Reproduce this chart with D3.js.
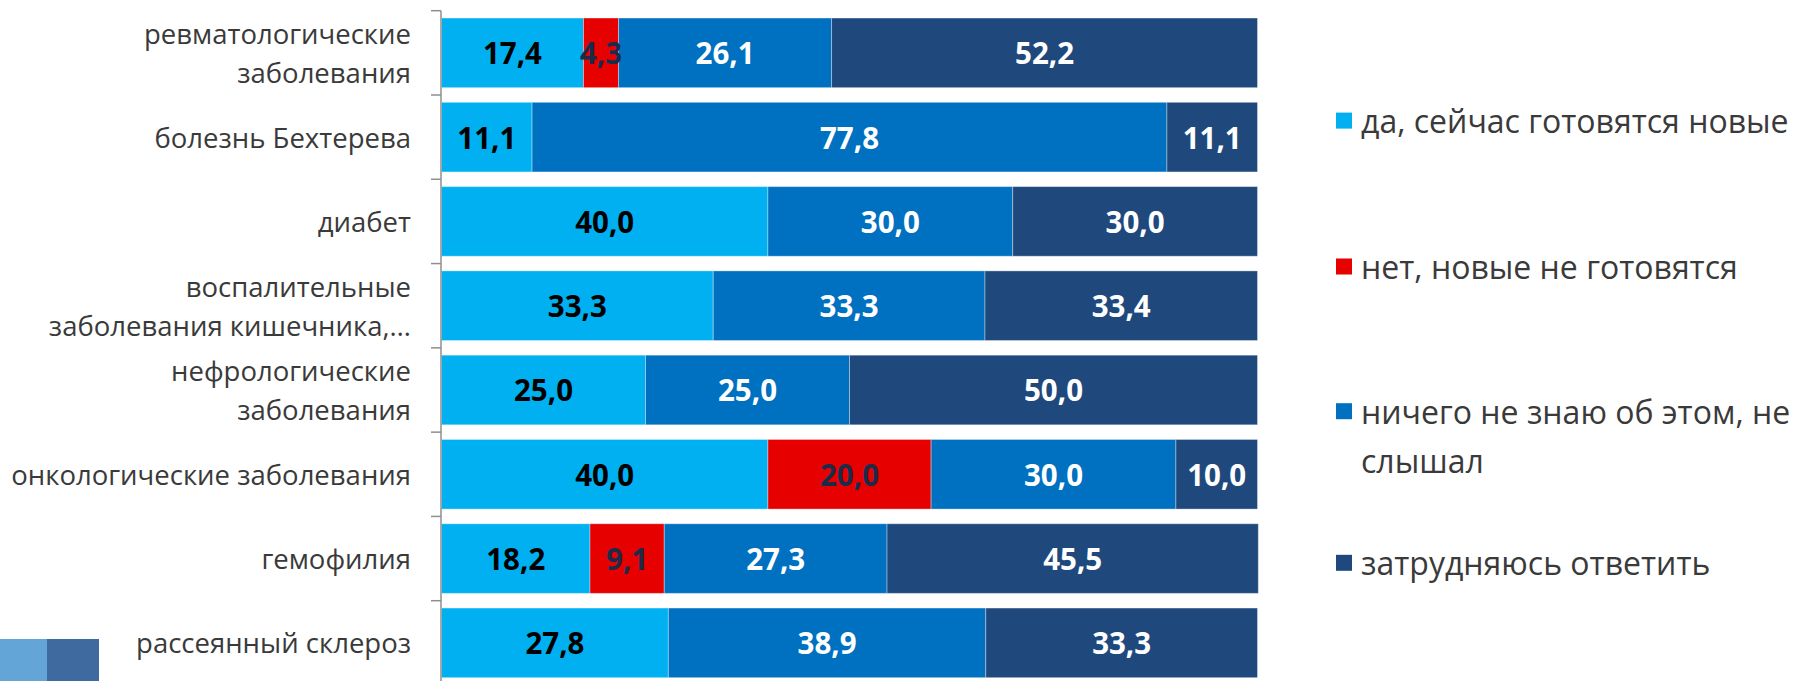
<!DOCTYPE html>
<html lang="ru">
<head>
<meta charset="utf-8">
<title>Stacked bars</title>
<script src="https://cdn.jsdelivr.net/npm/d3@7"></script>
<style>
  html, body { margin: 0; padding: 0; background: #fff; }
  svg { display: block; font-family: "Open Sans", "Noto Sans", sans-serif; }
</style>
</head>
<body>
<svg id="chart"></svg>
<script>
// categories, top to bottom (each entry = lines of the wrapped label)
const categories = [
  ['ревматологические', 'заболевания'],
  ['болезнь Бехтерева'],
  ['диабет'],
  ['воспалительные', 'заболевания кишечника,…'],
  ['нефрологические', 'заболевания'],
  ['онкологические заболевания'],
  ['гемофилия'],
  ['рассеянный склероз']
];

const seriesNames = [
  'да, сейчас готовятся новые',
  'нет, новые не готовятся',
  'ничего не знаю об этом, не слышал',
  'затрудняюсь ответить'
];

// percent per category, same order as categories
const yesValues     = [17.4, 11.1, 40.0, 33.3, 25.0, 40.0, 18.2, 27.8];
const noValues      = [4.3, 0, 0, 0, 0, 20.0, 9.1, 0];
const unknownValues = [26.1, 77.8, 30.0, 33.3, 25.0, 30.0, 27.3, 38.9];
const hardValues    = [52.2, 11.1, 30.0, 33.4, 50.0, 10.0, 45.5, 33.3];

const legendLines = [
  ['да, сейчас готовятся новые'],
  ['нет, новые не готовятся'],
  ['ничего не знаю об этом, не', 'слышал'],
  ['затрудняюсь ответить']
];

const colors = ['#00b0f0', '#e60000', '#0070c0', '#1f497d'];
const labelColors = ['#000000', '#1c2b4a', '#ffffff', '#ffffff'];

const width = 1801;
const height = 681;

const svg = d3.select('#chart').attr('width', width).attr('height', height);

const rows = categories.map((c, i) => ({
  key: c.join(' '),
  lines: c,
  s0: yesValues[i], s1: noValues[i], s2: unknownValues[i], s3: hardValues[i]
}));

const keys = ['s0', 's1', 's2', 's3'];
const stacked = d3.stack().keys(keys)(rows);

const x = d3.scaleLinear().domain([0, 100]).range([441.5, 1257.5]);

const y = d3.scaleBand()
  .domain(rows.map(d => d.key))
  .range([10.7, 685])
  .paddingInner(0.174)
  .paddingOuter(0.087);

// bars
const layer = svg.append('g')
  .selectAll('g')
  .data(stacked)
  .join('g')
  .attr('fill', (d, i) => colors[i]);

layer.selectAll('rect')
  .data(d => d)
  .join('rect')
  .attr('x', d => x(d[0]))
  .attr('y', d => y(d.data.key))
  .attr('width', d => x(d[1]) - x(d[0]))
  .attr('height', y.bandwidth())
  .attr('stroke', 'rgba(255,255,255,0.35)')
  .attr('stroke-width', 1);

// value labels
stacked.forEach((s, i) => {
  svg.append('g')
    .selectAll('text')
    .data(s.filter(d => d[1] - d[0] > 0))
    .join('text')
    .attr('x', d => (x(d[0]) + x(d[1])) / 2)
    .attr('y', d => y(d.data.key) + y.bandwidth() / 2)
    .attr('text-anchor', 'middle')
    .attr('dominant-baseline', 'central')
    .attr('fill', labelColors[i])
    .style('font-size', '29.5px')
    .style('font-weight', '700')
    .text(d => d3.format('.1f')(d[1] - d[0]).replace('.', ','));
});

// category axis: line + ticks at band edges
const step = y.step();
const y0 = y.range()[0];
const axisX = 441;
const axis = svg.append('g').attr('stroke', '#8f8f8f').attr('stroke-width', 1.5);
axis.append('line')
  .attr('x1', axisX).attr('x2', axisX)
  .attr('y1', y0).attr('y2', height);
axis.selectAll('line.tick')
  .data(d3.range(rows.length + 1))
  .join('line')
  .attr('class', 'tick')
  .attr('x1', axisX - 10).attr('x2', axisX)
  .attr('y1', i => y0 + i * step)
  .attr('y2', i => y0 + i * step);

// category labels
const catLabel = svg.append('g')
  .selectAll('text')
  .data(rows)
  .join('text')
  .attr('text-anchor', 'end')
  .attr('fill', '#3a3a3a')
  .style('font-size', '27.5px');

catLabel.each(function (d) {
  const t = d3.select(this);
  const cy = y(d.key) + y.bandwidth() / 2;
  const lh = 39;
  d.lines.forEach((line, j) => {
    t.append('tspan')
      .attr('x', 411)
      .attr('y', cy + (j - (d.lines.length - 1) / 2) * lh)
      .attr('dominant-baseline', 'central')
      .text(line);
  });
});

// legend
const legendY = [120.6, 266.5, 411.2, 562.8];
const legend = svg.append('g');
const item = legend.selectAll('g')
  .data(seriesNames)
  .join('g')
  .attr('transform', (_, i) => `translate(1336, ${legendY[i]})`);

item.append('rect')
  .attr('x', 0)
  .attr('y', -8)
  .attr('width', 16)
  .attr('height', 16)
  .attr('fill', (_, i) => colors[i]);

item.append('text')
  .attr('fill', '#3a3a3a')
  .style('font-size', '32px')
  .each(function (_, i) {
    legendLines[i].forEach((line, j) => {
      d3.select(this).append('tspan')
        .attr('x', 25)
        .attr('y', j * 49.4)
        .attr('dominant-baseline', 'central')
        .text(line);
    });
  });

// slide decoration bottom-left
svg.append('rect').attr('x', 0).attr('y', 639).attr('width', 47).attr('height', 42).attr('fill', '#64a5d8');
svg.append('rect').attr('x', 47).attr('y', 639).attr('width', 52).attr('height', 42).attr('fill', '#3e6aa0');
</script>
</body>
</html>
